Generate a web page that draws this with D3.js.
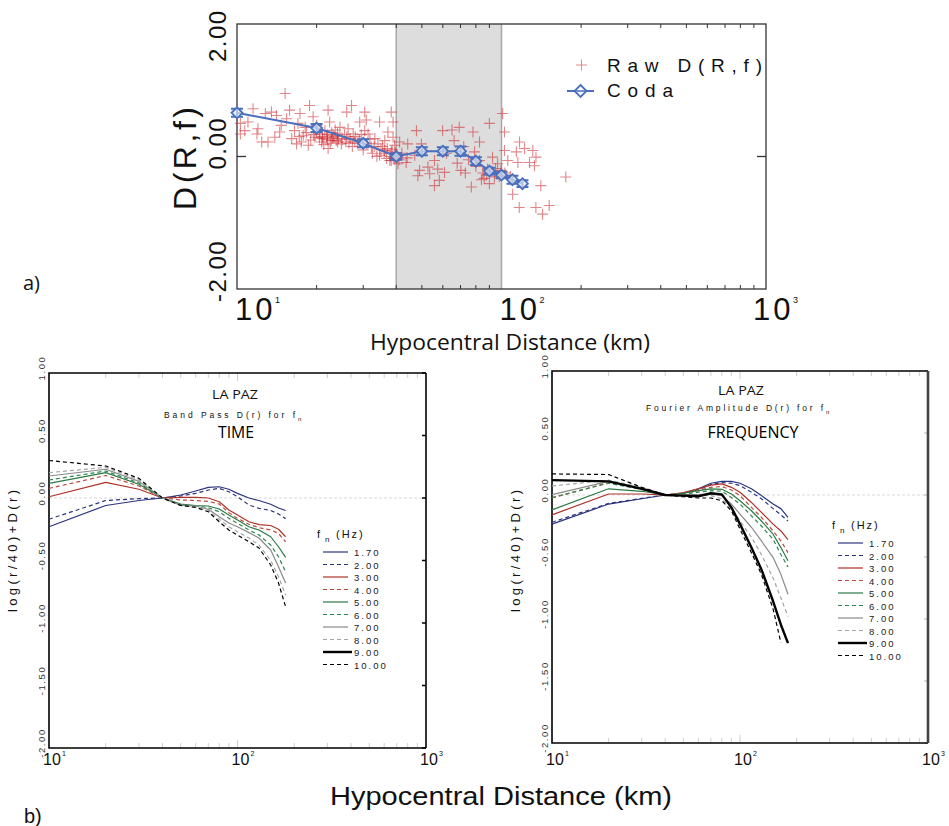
<!DOCTYPE html>
<html>
<head>
<meta charset="utf-8">
<script src="https://cdn.jsdelivr.net/npm/d3@7"></script>
<style>
  body { margin: 0; background: #fff; }
  svg { display: block; font-family: "Liberation Sans", Arial, sans-serif; }
</style>
</head>
<body>
<svg id="fig" width="949" height="826"></svg>
<script>
// ---------------- data ----------------
// panel a) coda D(R,f) with error bars
var codaDist = [10, 20, 30, 40, 50, 60, 70, 80, 90, 100, 110, 120];
var codaD    = [0.66, 0.43, 0.20, 0.00, 0.08, 0.08, 0.08, -0.07, -0.22, -0.28, -0.35, -0.41];
var codaErr  = [0.06, 0.06, 0.06, 0.05, 0.06, 0.06, 0.07, 0.06, 0.05, 0.05, 0.06, 0.05];

// panel a) raw D(R,f) [distance km, value]
var rawPoints = [
  [15.2,0.95],[11.5,0.72],[10.3,0.50],[10.3,0.34],[11.0,0.52],[11.9,0.34],[12.4,0.22],[13.1,0.22],
  [12.8,0.65],[13.5,0.67],[14.1,0.62],[14.5,0.37],[14.7,0.47],[15.8,0.70],[16.1,0.27],[16.8,0.19],
  [17.3,0.65],[17.8,0.32],[18.6,0.17],[18.8,0.77],[19.4,0.60],[19.7,0.29],[20.9,0.22],[21.5,0.39],
  [22.1,0.70],[22.4,0.52],[22.1,0.12],[23.1,0.32],[23.7,0.24],[24.5,0.44],[24.8,0.19],[18.1,0.44],
  [17.0,0.50],[13.9,0.29],[17.5,0.22],[20.6,0.34],[21.1,0.27],[21.8,0.29],[22.7,0.24],[20.0,0.47],
  [15.4,0.57],[12.0,0.42],[10.7,0.39],[16.5,0.39],
  [27.1,0.77],[26.0,0.67],[30.4,0.67],[30.8,0.55],[29.1,0.52],[34.6,0.52],[38.3,0.67],[38.9,0.52],
  [26.3,0.42],[27.5,0.34],[30.4,0.39],[31.3,0.34],[32.2,0.14],[34.6,0.02],[36.2,0.24],[37.2,0.37],
  [38.9,0.29],[39.4,0.17],[38.3,0.07],[38.3,-0.06],[40.6,-0.11],[41.2,0.22],[43.6,-0.09],[44.2,0.19],
  [47.7,0.39],[49.8,0.19],[49.0,-0.21],[48.3,-0.29],[53.5,-0.26],[55.8,-0.06],[57.4,-0.19],[58.2,-0.36],
  [55.8,-0.44],[59.9,0.39],[60.9,-0.24],[66.2,0.24],[69.2,0.44],[70.2,-0.21],[47.0,0.02],[52.7,-0.16],
  [27.9,0.22],[33.2,0.27],[34.1,0.19],[36.2,0.09],[37.8,-0.06],[39.4,-0.04],
  [101,0.65],[90,0.50],[78,0.37],[102.6,0.37],[82.6,0.22],[117,0.22],[122.2,0.12],[131.3,0.09],
  [135,-0.01],[113.8,0.07],[102.6,0.09],[105.6,-0.06],[115.3,-0.09],[127.6,-0.09],[133.2,-0.14],[92.5,-0.01],
  [88.6,-0.19],[94,-0.31],[76.9,-0.46],[90,-0.41],[140.8,-0.44],[110.2,-0.57],[116.7,-0.77],[134.9,-0.77],
  [143,-0.87],[151.5,-0.74],[175,-0.31],[99.6,-0.21],[82.6,-0.06],[79.1,0.07],[96.7,-0.11],
  [21,0.30],[22,0.33],[23,0.28],[24,0.35],[22.5,0.20],[25,0.26],[26,0.30],[24,0.22],[20,0.36],
  [23.5,0.40],[26.5,0.20],[28,0.30],[29,0.25],[31,0.20],[33,0.15],[35,0.10],[36,0.05],[38,0.0],
  [39,-0.02],[40,0.03],[41,-0.05],[42,0.05],[44,-0.02],[37,0.12],[85,-0.25],[88,-0.28],[92,-0.22],
  [95,-0.18],[86,-0.33],[98,-0.30],[103,-0.25],[108,-0.30],[65,0.40],[72,0.15],[75,-0.05],[68,-0.10],
  [62,0.05],[73,-0.25],[80,-0.15],[84,-0.35],
  [19,0.25],[19.5,0.33],[20.5,0.28],[21.3,0.18],[22,0.26],[22.8,0.36],[23.3,0.30],[24.2,0.27],
  [25.5,0.33],[25.8,0.22],[26.8,0.27],[27.3,0.15],[28.5,0.20],[29.5,0.33],[30,0.10],[31.8,0.26],
  [32.5,0.05],[33.8,0.00],[35.5,0.15],[36.8,-0.03],[38.6,0.10],[39.8,0.06],[40.3,-0.02],[18.3,0.36],
  [17.2,0.30]
];

// panel b) curves
var curveDist = [10, 20, 30, 40, 50, 60, 70, 80, 90, 100, 115, 130, 150, 165, 180];
var fnLabels = ["1.70", "2.00", "3.00", "4.00", "5.00", "6.00", "7.00", "8.00", "9.00", "10.00"];

var timeCurves = [
  [-0.23,-0.06,-0.02,0,0.024,0.056,0.085,0.09,0.07,0.037,0.0,-0.02,-0.05,-0.08,-0.10],
  [-0.17,-0.02,-0.005,0,0.016,0.037,0.064,0.077,0.05,0.01,-0.056,-0.083,-0.10,-0.128,-0.165],
  [0.01,0.125,0.07,0,0.005,0.005,0,-0.03,-0.096,-0.136,-0.19,-0.213,-0.22,-0.25,-0.31],
  [0.077,0.18,0.096,0,-0.016,-0.02,-0.027,-0.048,-0.117,-0.163,-0.21,-0.237,-0.256,-0.283,-0.35],
  [0.117,0.203,0.11,0,-0.048,-0.06,-0.064,-0.088,-0.136,-0.176,-0.23,-0.256,-0.31,-0.39,-0.475],
  [0.144,0.216,0.12,0,-0.053,-0.064,-0.077,-0.11,-0.163,-0.203,-0.256,-0.296,-0.376,-0.47,-0.59],
  [0.176,0.23,0.133,0,-0.059,-0.064,-0.09,-0.15,-0.2,-0.23,-0.277,-0.32,-0.416,-0.55,-0.68],
  [0.203,0.245,0.144,0,-0.059,-0.07,-0.1,-0.17,-0.23,-0.27,-0.32,-0.376,-0.5,-0.63,-0.776],
  null,
  [0.30,0.256,0.157,0,-0.059,-0.075,-0.11,-0.19,-0.256,-0.296,-0.35,-0.4,-0.536,-0.68,-0.87]
];

var freqCurves = [
  [-0.235,-0.073,-0.03,0,0.014,0.05,0.095,0.11,0.11,0.095,0.05,-0.005,-0.073,-0.11,-0.18],
  [-0.22,-0.068,-0.027,0,0.014,0.043,0.084,0.10,0.095,0.076,0.022,-0.03,-0.11,-0.16,-0.21],
  [-0.16,0.008,0.008,0,0.02,0.05,0.08,0.09,0.062,0.022,-0.06,-0.14,-0.235,-0.29,-0.36],
  [-0.024,0.10,0.05,0,0.014,0.035,0.062,0.068,0.04,-0.005,-0.10,-0.18,-0.29,-0.37,-0.465],
  [-0.12,0.05,0.03,0,0.014,0.035,0.05,0.046,0.008,-0.046,-0.127,-0.21,-0.316,-0.424,-0.53],
  [-0.02,0.095,0.045,0,0.008,0.022,0.035,0.03,-0.02,-0.073,-0.168,-0.25,-0.357,-0.48,-0.58],
  [0.003,0.11,0.057,0,0.003,0.003,0.008,-0.005,-0.073,-0.154,-0.26,-0.37,-0.505,-0.64,-0.80],
  [0.073,0.12,0.062,0,0,-0.003,-0.005,-0.03,-0.11,-0.21,-0.34,-0.48,-0.67,-0.83,-0.98],
  [0.12,0.11,0.05,0,-0.005,-0.01,0.014,0.005,-0.10,-0.235,-0.424,-0.6,-0.857,-1.046,-1.195],
  [0.17,0.165,0.062,0,-0.014,-0.024,-0.024,-0.046,-0.127,-0.276,-0.465,-0.64,-0.92,-1.19,null]
];

var decadeTicks = [10, 100, 1000];
var decadeExp = ["1", "2", "3"];
var topYTicks = [2, 0, -2];
var bottomYTicks = [1, 0.5, 0, -0.5, -1, -1.5, -2];

// line styles per f_n
var fnColors = ["#2b347f", "#2b347f", "#ad3228", "#b84a3e", "#2a7a45", "#2e8650", "#8a8a8a", "#a5a5a5", "#000", "#000"];
var fnDash = [null, "4,3", null, "4,3", null, "4,3", null, "4,3", null, "4,3"];
var fnWidth = [1.2, 1.2, 1.2, 1.2, 1.2, 1.2, 1.2, 1.2, 2.4, 1.2];

var svg = d3.select("#fig");
var minorVals = [20,30,40,50,60,70,80,90,200,300,400,500,600,700,800,900];

// ---------------- panel a ----------------
var xA = d3.scaleLog().domain([10, 1000]).range([237, 766]);
var yA = d3.scaleLinear().domain([-2, 2]).range([289, 24]);

var gA = svg.append("g");

// shaded window 40-100 km
gA.append("rect")
  .attr("x", xA(40)).attr("y", yA(2))
  .attr("width", xA(100) - xA(40)).attr("height", yA(-2) - yA(2))
  .attr("fill", "#dddddd");
[40, 100].forEach(function(v) {
  gA.append("line")
    .attr("x1", xA(v)).attr("x2", xA(v)).attr("y1", yA(2)).attr("y2", yA(-2))
    .attr("stroke", "#a8a8a8").attr("stroke-width", 1.5);
});

// frame + ticks
gA.append("rect")
  .attr("x", xA(10)).attr("y", yA(2))
  .attr("width", xA(1000) - xA(10)).attr("height", yA(-2) - yA(2))
  .attr("fill", "none").attr("stroke", "#333").attr("stroke-width", 1.3);
minorVals.forEach(function(v) {
  gA.append("line").attr("x1", xA(v)).attr("x2", xA(v)).attr("y1", yA(2)).attr("y2", yA(2) + 4)
    .attr("stroke", "#333");
  gA.append("line").attr("x1", xA(v)).attr("x2", xA(v)).attr("y1", yA(-2)).attr("y2", yA(-2) - 4)
    .attr("stroke", "#333");
});
gA.append("line").attr("x1", xA(10)).attr("x2", xA(10) + 9).attr("y1", yA(0)).attr("y2", yA(0)).attr("stroke", "#333").attr("stroke-width", 1.3);
gA.append("line").attr("x1", xA(1000)).attr("x2", xA(1000) - 9).attr("y1", yA(0)).attr("y2", yA(0)).attr("stroke", "#333").attr("stroke-width", 1.3);

// y tick labels (rotated); the top one sits lower than its tick, as in the source
topYTicks.forEach(function(t) {
  var shift = t === 2 ? 38 : 13;
  gA.append("text")
    .attr("transform", "translate(226," + (yA(t) + shift) + ") rotate(-90)")
    .attr("font-size", 24).attr("letter-spacing", 1.5).attr("fill", "#111")
    .text(t.toFixed(2));
});

// x tick labels
decadeTicks.forEach(function(t, i) {
  var x0 = xA(t) + (i === 2 ? -13 : -2);
  gA.append("text").attr("x", x0).attr("y", 320)
    .attr("font-size", 31).attr("letter-spacing", 3).attr("fill", "#111").text("10");
  gA.append("text").attr("x", x0 + 40).attr("y", 303)
    .attr("font-size", 9).attr("fill", "#111").text(decadeExp[i]);
});

// axis titles
gA.append("text")
  .attr("transform", "translate(196,210) rotate(-90)")
  .attr("font-size", 32).attr("textLength", 103).attr("lengthAdjust", "spacing")
  .attr("fill", "#111").text("D(R,f)");
gA.append("text").attr("x", 370).attr("y", 350)
  .attr("font-family", "'Open Sans', sans-serif")
  .attr("font-size", 21).attr("textLength", 280).attr("lengthAdjust", "spacingAndGlyphs")
  .attr("fill", "#111").text("Hypocentral Distance (km)");
gA.append("text").attr("x", 23).attr("y", 290)
  .attr("font-family", "'Open Sans', sans-serif")
  .attr("font-size", 20).attr("fill", "#111").text("a)");

// raw crosses
gA.selectAll(".raw")
  .data(rawPoints)
  .enter()
  .append("path")
  .attr("class", "raw")
  .attr("d", "M-5.5,0H5.5M0,-5.5V5.5")
  .attr("transform", d => `translate(${xA(d[0])},${yA(d[1])})`)
  .attr("stroke", "#cc2229").attr("stroke-opacity", 0.55).attr("stroke-width", 1.1)
  .attr("fill", "none");

// coda line, error bars, diamonds
var coda = codaDist.map(function(r, i) { return {r: r, d: codaD[i], e: codaErr[i]}; });
var blue = "#4a6fbd";
gA.append("path")
  .datum(coda)
  .attr("d", d3.line().x(d => xA(d.r)).y(d => yA(d.d)))
  .attr("fill", "none").attr("stroke", blue).attr("stroke-width", 2);
var cg = gA.selectAll(".coda").data(coda).enter().append("g")
  .attr("transform", d => `translate(${xA(d.r)},${yA(d.d)})`);
cg.append("path")
  .attr("d", d => {
    var h = yA(0) - yA(d.e);
    return `M0,${-h}V${h}M-6,${-h}H6M-6,${h}H6`;
  })
  .attr("stroke", blue).attr("stroke-width", 2).attr("fill", "none");
cg.append("path")
  .attr("d", "M0,-5.5L5.5,0L0,5.5L-5.5,0Z")
  .attr("fill", "#dfe5f3").attr("fill-opacity", 0.7)
  .attr("stroke", blue).attr("stroke-width", 1.8);

// legend
gA.append("path").attr("d", "M576,65H587M581.5,59.5V70.5")
  .attr("stroke", "#e08a8a").attr("stroke-width", 1).attr("fill", "none");
gA.append("text").attr("x", 607).attr("y", 72)
  .attr("font-size", 19).attr("textLength", 155).attr("lengthAdjust", "spacing")
  .attr("fill", "#111").text("Raw D(R,f)");
gA.append("line").attr("x1", 567).attr("x2", 594).attr("y1", 91).attr("y2", 91)
  .attr("stroke", blue).attr("stroke-width", 2);
gA.append("path").attr("d", "M580.5,85L586.5,91L580.5,97L574.5,91Z")
  .attr("fill", "#fff").attr("stroke", blue).attr("stroke-width", 1.8);
gA.append("line").attr("x1", 574.5).attr("x2", 586.5).attr("y1", 91).attr("y2", 91)
  .attr("stroke", blue).attr("stroke-width", 1.5);
gA.append("text").attr("x", 607).attr("y", 97)
  .attr("font-size", 19).attr("textLength", 66).attr("lengthAdjust", "spacing")
  .attr("fill", "#111").text("Coda");

// ---------------- panel b ----------------
function drawPanel(opt) {
  var x = d3.scaleLog().domain([10, 1000]).range([opt.left, opt.right]);
  var y = d3.scaleLinear().domain([-2, 1]).range([opt.bottom, opt.top]);
  var g = svg.append("g");

  // zero reference line
  g.append("line").attr("x1", x(10)).attr("x2", x(1000)).attr("y1", y(0)).attr("y2", y(0))
    .attr("stroke", "#cfcfcf").attr("stroke-width", 0.8).attr("stroke-dasharray", "3,2");

  // minor ticks top/bottom
  minorVals.concat([100]).forEach(function(v) {
    var len = v === 100 ? 8 : 5;
    g.append("line").attr("x1", x(v)).attr("x2", x(v)).attr("y1", y(1)).attr("y2", y(1) + len)
      .attr("stroke", "#cfcfcf");
    g.append("line").attr("x1", x(v)).attr("x2", x(v)).attr("y1", y(-2)).attr("y2", y(-2) - len)
      .attr("stroke", "#cfcfcf");
  });
  // right-side y ticks
  bottomYTicks.forEach(function(t) {
    g.append("line").attr("x1", x(1000)).attr("x2", x(1000) - 4).attr("y1", y(t)).attr("y2", y(t))
      .attr("stroke", opt.rightTickColor).attr("stroke-width", 1.5);
  });

  // frame
  g.append("path")
    .attr("d", `M${x(1000)},${y(1)}H${x(10)}V${y(-2)}H${x(1000)}`)
    .attr("fill", "none").attr("stroke", "#000").attr("stroke-width", 1.6);
  g.append("line").attr("x1", x(1000)).attr("x2", x(1000)).attr("y1", y(1)).attr("y2", y(-2))
    .attr("stroke", opt.rightEdgeColor).attr("stroke-width", opt.rightEdgeWidth);

  // y tick labels
  bottomYTicks.forEach(function(t) {
    g.append("text")
      .attr("transform", `translate(${opt.left - 4},${y(t) - 5}) rotate(-90)`)
      .attr("text-anchor", "middle")
      .attr("font-size", 9.5).attr("letter-spacing", 1.6).attr("fill", "#333")
      .text(t.toFixed(2));
  });
  // y title
  g.append("text")
    .attr("transform", `translate(${opt.left - 32},612) rotate(-90)`)
    .attr("font-size", 13).attr("textLength", 122).attr("lengthAdjust", "spacing")
    .attr("fill", "#111").text("log(r/40)+D(r)");

  // x tick labels
  decadeTicks.forEach(function(t, i) {
    g.append("text").attr("x", x(t) - 6).attr("y", 765)
      .attr("font-size", 16).attr("fill", "#111").text("10");
    g.append("text").attr("x", x(t) + 13).attr("y", 756)
      .attr("font-size", 7).attr("fill", "#111").text(decadeExp[i]);
  });

  // titles
  g.append("text").attr("x", opt.cx1).attr("y", opt.y1).attr("text-anchor", "middle")
    .attr("font-family", "'Open Sans', sans-serif")
    .attr("font-size", 12).attr("textLength", 46).attr("lengthAdjust", "spacingAndGlyphs")
    .attr("fill", "#111").text("LA PAZ");
  g.append("text").attr("x", opt.subX).attr("y", opt.y2)
    .attr("font-size", 8.5).attr("textLength", opt.subLen).attr("lengthAdjust", "spacing")
    .attr("fill", "#111").text(opt.sub);
  g.append("text").attr("x", opt.subX + opt.subLen + 3).attr("y", opt.y2 + 3)
    .attr("font-size", 6).attr("fill", "#111").text("n");
  g.append("text").attr("x", opt.cx3).attr("y", 438).attr("text-anchor", "middle")
    .attr("font-family", "'Open Sans', sans-serif")
    .attr("font-size", 17).attr("textLength", opt.bigLen).attr("lengthAdjust", "spacingAndGlyphs")
    .attr("fill", "#000").text(opt.big);

  // curves
  var line = d3.line()
    .defined(d => d[1] != null)
    .x(d => x(d[0])).y(d => y(d[1]));
  opt.curves.forEach(function(vals, i) {
    if (!vals) return;
    var pts = curveDist.map((r, j) => [r, vals[j]]);
    g.append("path").datum(pts)
      .attr("d", line)
      .attr("fill", "none")
      .attr("stroke", fnColors[i])
      .attr("stroke-width", fnWidth[i])
      .attr("stroke-linejoin", "round")
      .attr("stroke-dasharray", fnDash[i]);
  });

  // legend
  var lg = g.append("g");
  lg.append("text").attr("x", opt.legX - 6).attr("y", opt.legY - 14)
    .attr("font-size", 11).attr("fill", "#111").text("f");
  lg.append("text").attr("x", opt.legX + 2).attr("y", opt.legY - 10)
    .attr("font-size", 8).attr("fill", "#111").text("n");
  lg.append("text").attr("x", opt.legX + 13).attr("y", opt.legY - 14)
    .attr("font-size", 11).attr("letter-spacing", 2).attr("fill", "#111").text("(Hz)");
  fnLabels.forEach(function(lab, i) {
    var yy = opt.legY + i * 12.5;
    lg.append("line").attr("x1", opt.legX).attr("x2", opt.legX + (i === 8 ? 29 : 25))
      .attr("y1", yy).attr("y2", yy)
      .attr("stroke", fnColors[i]).attr("stroke-width", fnWidth[i])
      .attr("stroke-dasharray", fnDash[i]);
    lg.append("text").attr("x", opt.legX + 31).attr("y", yy + 4)
      .attr("font-size", 9.5).attr("letter-spacing", 2).attr("fill", "#222").text(lab);
  });
}

drawPanel({
  left: 49, right: 426, top: 373, bottom: 748,
  curves: timeCurves,
  rightTickColor: "#000", rightEdgeColor: "#000", rightEdgeWidth: 1.6,
  cx1: 235, y1: 399, subX: 164, y2: 418, subLen: 131,
  sub: "Band Pass D(r) for f", big: "TIME", bigLen: 36, cx3: 236,
  legX: 323, legY: 552
});
drawPanel({
  left: 552, right: 928, top: 371, bottom: 743,
  curves: freqCurves,
  rightTickColor: "#d0d0d0", rightEdgeColor: "#444", rightEdgeWidth: 2.6,
  cx1: 741, y1: 395, subX: 646, y2: 411, subLen: 177,
  sub: "Fourier Amplitude D(r) for f", big: "FREQUENCY", bigLen: 91, cx3: 753,
  legX: 838, legY: 543
});

// shared labels
svg.append("text").attr("x", 330).attr("y", 805)
  .attr("font-size", 25).attr("textLength", 342).attr("lengthAdjust", "spacingAndGlyphs")
  .attr("fill", "#111").text("Hypocentral Distance (km)");
svg.append("text").attr("x", 24).attr("y", 823)
  .attr("font-size", 20).attr("fill", "#111").text("b)");
</script>
</body>
</html>
